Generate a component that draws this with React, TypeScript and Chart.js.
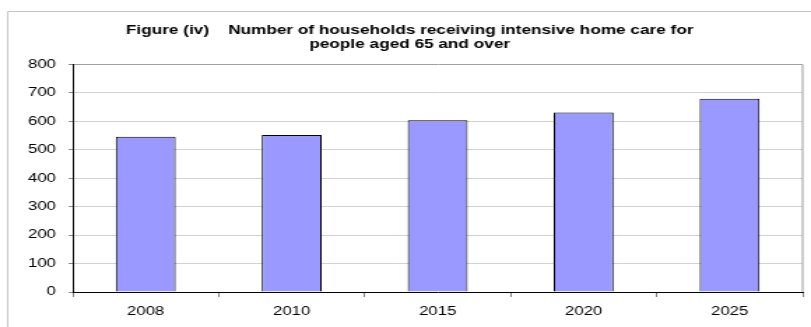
import React, { useEffect, useRef } from 'react';
import { Chart, registerables } from 'chart.js';

Chart.register(...registerables);

// ---- data ----
const categories = ['2008', '2010', '2015', '2020', '2025'];
const households = [546, 552, 604, 631, 680];
const titleLines = [
  'Figure (iv)    Number of households receiving intensive home care for',
  'people aged 65 and over',
];
const yMin = 0;
const yMax = 800;
const yStep = 100;

// ---- layout (the reference is horizontally stretched) ----
const VIEW_W = 811;
const VIEW_H = 327;
const CANVAS_W = 580;
const FONT = "'Liberation Sans', Arial, Helvetica, sans-serif";

const framePlugin = {
  id: 'frame',
  beforeDraw(chart: any) {
    const ctx = chart.ctx;
    ctx.save();
    ctx.strokeStyle = '#c4c4c4';
    ctx.lineWidth = 1;
    ctx.beginPath();
    ctx.moveTo(5.5, chart.height + 5);
    ctx.lineTo(5.5, 11.5);
    ctx.lineTo(chart.width + 5, 11.5);
    ctx.stroke();
    ctx.restore();
  },
  afterDraw(chart: any) {
    const { right, top, bottom } = chart.chartArea;
    const ctx = chart.ctx;
    ctx.save();
    ctx.strokeStyle = '#9a9a9a';
    ctx.lineWidth = 1;
    ctx.beginPath();
    ctx.moveTo(right, top);
    ctx.lineTo(right, bottom);
    ctx.stroke();
    ctx.restore();
  },
};

export default function App() {
  const ref = useRef<HTMLCanvasElement>(null);

  useEffect(() => {
    document.body.style.margin = '0';
    const canvas = ref.current!;
    const chart = new Chart(canvas, {
      type: 'bar',
      data: {
        labels: categories,
        datasets: [
          {
            data: households,
            backgroundColor: '#9999ff',
            borderColor: '#000000',
            borderWidth: 1,
            barPercentage: 0.41,
            categoryPercentage: 1,
          },
        ],
      },
      options: {
        responsive: false,
        maintainAspectRatio: false,
        devicePixelRatio: 1,
        animation: false,
        layout: { padding: { left: 12, right: 6, top: 0, bottom: 0 } },
        plugins: {
          legend: { display: false },
          tooltip: { enabled: false },
          title: {
            display: true,
            text: titleLines,
            color: '#000',
            font: { family: FONT, size: 12.3, weight: 'bold', lineHeight: 1.12 },
            padding: { top: 24, bottom: 13 },
          },
        },
        scales: {
          x: {
            type: 'category',
            grid: {
              display: true,
              offset: true,
              drawOnChartArea: false,
              drawTicks: true,
              tickLength: 5,
              color: '#808080',
            },
            border: { display: true, color: '#000', width: 1 },
            ticks: {
              color: '#000',
              font: { family: FONT, size: 12 },
              padding: 7.5,
              maxRotation: 0,
              autoSkip: false,
            },
            afterFit: (s: any) => {
              s.height = 35;
            },
          },
          y: {
            min: yMin,
            max: yMax,
            ticks: {
              stepSize: yStep,
              color: '#000',
              font: { family: FONT, size: 12 },
              padding: 9,
            },
            grid: {
              color: (c: any) => (c.tick && c.tick.value === yMax ? '#a0a0a0' : '#d2d2d2'),
              tickColor: '#8a8a8a',
              tickLength: 3,
              drawTicks: true,
            },
            border: { display: true, color: '#000', width: 1 },
            afterFit: (s: any) => {
              s.width = 40;
            },
          },
        },
      },
      plugins: [framePlugin],
    });
    return () => chart.destroy();
  }, []);

  return (
    <canvas
      ref={ref}
      width={CANVAS_W}
      height={VIEW_H}
      style={{ display: 'block', width: VIEW_W + 'px', height: VIEW_H + 'px' }}
    />
  );
}
